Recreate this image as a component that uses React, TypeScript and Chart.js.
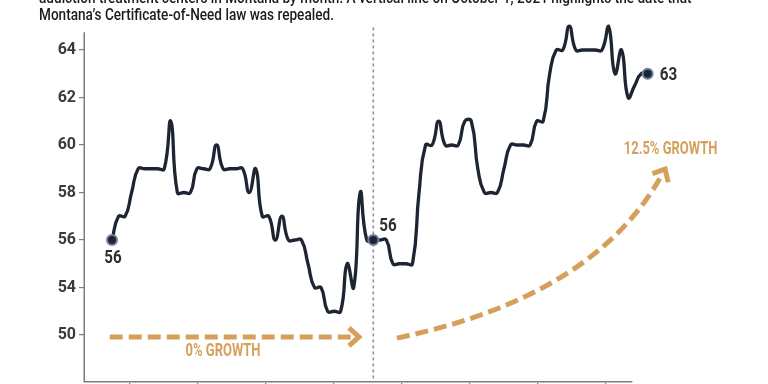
import React, { useEffect, useRef } from "react";
import { Chart, registerables } from "chart.js";

Chart.register(...registerables);

// ---------------- data ----------------
const START_YEAR = 2018;
const START_MONTH = 5; // June (0-based)
const MONTH_NAMES = ["Jan", "Feb", "Mar", "Apr", "May", "Jun", "Jul", "Aug", "Sep", "Oct", "Nov", "Dec"];

// Licensed addiction treatment centers in Montana, by month
const centers: number[] = [
  56, 57, 57, 58, 59, 59, 59, 59, 59, 61,
  58, 58, 58, 59, 59, 59, 60, 59, 59, 59,
  59, 58, 59, 57, 57, 56, 57, 56, 56, 56,
  55, 54, 54, 53, 53, 53, 55, 54, 58, 56,
  56, 56, 56, 55, 55, 55, 55, 58, 60, 60,
  61, 60, 60, 60, 61, 61, 59, 58, 58, 58,
  59, 60, 60, 60, 60, 61, 61, 63, 64, 64,
  65, 64, 64, 64, 64, 64, 65, 63, 64, 62,
  62.5, 63, 63,
];

const months: string[] = centers.map((_, i) => {
  const m = START_MONTH + i;
  return `${MONTH_NAMES[m % 12]} ${START_YEAR + Math.floor(m / 12)}`;
});

const REPEAL_MONTH = "Oct 2021";
const repealIndex = months.indexOf(REPEAL_MONTH);
const labelledIndices = [0, repealIndex, centers.length - 1];

const yTickValues = [52, 54, 56, 58, 60, 62, 64];
const yTickLabels = ["50", "54", "56", "58", "60", "62", "64"];
const xTickValues = [2.7, 13.1, 23.5, 33.9, 44.3, 54.7, 65.1, 75.5];

const titleLines = [
  "addiction treatment centers in Montana by month. A vertical line on October 1, 2021 highlights the date that",
  "Montana\u2019s Certificate-of-Need law was repealed.",
];

const flatGrowth = { label: "0% GROWTH", from: -0.35, to: 37.8, value: 51.92, labelX: 17, labelValue: 51.3 };
const curveGrowth = {
  label: "12.5% GROWTH",
  start: [43.6, 51.87],
  control: [73.9, 53.6],
  end: [84.3, 58.8],
  labelX: 85.5,
  labelValue: 59.79,
};

// ---------------- layout / style ----------------
const W = 768;
const H = 430;
const X_MIN = -4.288;
const X_MAX = 99.348;
const X_AXIS_END = 79.65;
const Y_MIN = 50;
const Y_MAX = 65;
const Y_AXIS_TOP = 64.75;
const EVENT_TOP = 64.95;

const LINE = "#1E2532";
const ORANGE = "#D6A05C";
const AXIS = "#7c7c7c";
const EVENT = "#8690a2";
const LABEL = "#2e2e2e";

const labelOffsets: Record<string, [number, number, CanvasTextAlign]> = {
  first: [1, 18, "center"],
  event: [6, -14, "left"],
  last: [12, 1, "left"],
};

function condensed(
  ctx: CanvasRenderingContext2D,
  text: string,
  x: number,
  y: number,
  font: string,
  color: string,
  sx: number,
  align: CanvasTextAlign = "center"
) {
  ctx.save();
  ctx.font = font;
  ctx.fillStyle = color;
  ctx.textBaseline = "middle";
  ctx.textAlign = align;
  ctx.translate(x, y);
  ctx.scale(sx, 1);
  ctx.fillText(text, 0, 0);
  ctx.restore();
}

function arrowHead(ctx: CanvasRenderingContext2D, tx: number, ty: number, ux: number, uy: number) {
  const nx = -uy;
  const ny = ux;
  ctx.save();
  ctx.setLineDash([]);
  ctx.lineWidth = 5;
  ctx.lineJoin = "miter";
  ctx.lineCap = "butt";
  ctx.beginPath();
  ctx.moveTo(tx - ux * 10 + nx * 9, ty - uy * 10 + ny * 9);
  ctx.lineTo(tx, ty);
  ctx.lineTo(tx - ux * 10 - nx * 9, ty - uy * 10 - ny * 9);
  ctx.stroke();
  ctx.restore();
}

const annotationPlugin = {
  id: "annotations",
  beforeDatasetsDraw(chart: any) {
    const { ctx } = chart;
    const xs = chart.scales.x;
    const ys = chart.scales.y;
    const X = (v: number) => xs.getPixelForValue(v);
    const Y = (v: number) => ys.getPixelForValue(v);
    ctx.save();

    // axis lines
    ctx.strokeStyle = AXIS;
    ctx.lineWidth = 1.5;
    ctx.setLineDash([]);
    ctx.beginPath();
    ctx.moveTo(X(X_MIN) + 0.25, Y(Y_AXIS_TOP));
    ctx.lineTo(X(X_MIN) + 0.25, Y(Y_MIN));
    ctx.moveTo(X(X_MIN), Y(Y_MIN) - 0.75);
    ctx.lineTo(X(X_AXIS_END), Y(Y_MIN) - 0.75);
    ctx.stroke();

    // repeal date line
    ctx.strokeStyle = EVENT;
    ctx.lineWidth = 1.6;
    ctx.setLineDash([3, 3]);
    ctx.beginPath();
    ctx.moveTo(X(repealIndex), Y(EVENT_TOP));
    ctx.lineTo(X(repealIndex), Y(Y_MIN));
    ctx.stroke();

    // flat growth arrow
    ctx.strokeStyle = ORANGE;
    ctx.lineWidth = 5;
    ctx.lineCap = "butt";
    ctx.setLineDash([13, 6]);
    const fy = Y(flatGrowth.value);
    const fx0 = X(flatGrowth.from);
    const fx1 = X(flatGrowth.to);
    ctx.beginPath();
    ctx.moveTo(fx0, fy);
    ctx.lineTo(fx1 - 7, fy);
    ctx.stroke();
    arrowHead(ctx, fx1, fy, 1, 0);

    // curved growth arrow
    const sx = X(curveGrowth.start[0]);
    const sy = Y(curveGrowth.start[1]);
    const cx = X(curveGrowth.control[0]);
    const cy = Y(curveGrowth.control[1]);
    const ex = X(curveGrowth.end[0]);
    const ey = Y(curveGrowth.end[1]);
    ctx.setLineDash([13, 6]);
    ctx.beginPath();
    ctx.moveTo(sx, sy);
    ctx.quadraticCurveTo(cx, cy, ex, ey);
    ctx.stroke();
    const dx = ex - cx;
    const dy = ey - cy;
    const len = Math.hypot(dx, dy);
    arrowHead(ctx, ex + (dx / len) * 5, ey + (dy / len) * 5, dx / len, dy / len);

    ctx.restore();
  },
  afterDatasetsDraw(chart: any) {
    const { ctx } = chart;
    const xs = chart.scales.x;
    const ys = chart.scales.y;
    const X = (v: number) => xs.getPixelForValue(v);
    const Y = (v: number) => ys.getPixelForValue(v);

    const growthFont = "bold 18px Roboto";
    condensed(ctx, flatGrowth.label, X(flatGrowth.labelX), Y(flatGrowth.labelValue), growthFont, ORANGE, 0.72);
    condensed(ctx, curveGrowth.label, X(curveGrowth.labelX), Y(curveGrowth.labelValue), growthFont, ORANGE, 0.72);

    const keys = ["first", "event", "last"];
    labelledIndices.forEach((idx, k) => {
      const [ox, oy, align] = labelOffsets[keys[k]];
      const v = centers[idx];
      condensed(ctx, String(Math.round(v)), X(idx) + ox, Y(v) + oy, "bold 19px Roboto", LABEL, 0.8, align);
    });
  },
};

export default function App() {
  const canvasRef = useRef<HTMLCanvasElement | null>(null);

  useEffect(() => {
    if (!canvasRef.current) return;
    const chart = new Chart(canvasRef.current, {
      type: "line",
      data: {
        datasets: [
          {
            label: "Treatment centers",
            data: centers.map((v, i) => ({ x: i, y: v })),
            borderColor: LINE,
            borderWidth: 3.3,
            tension: 0.5,
            fill: false,
            clip: false as any,
            pointRadius: (c: any) => (labelledIndices.includes(c.dataIndex) ? 5 : 0),
            pointBackgroundColor: "#1B2535",
            pointBorderColor: "#6F8098",
            pointBorderWidth: 2,
          },
        ],
      },
      options: {
        animation: false,
        responsive: false,
        devicePixelRatio: 1,
        layout: { padding: { top: 26.25, left: 0, right: 0, bottom: 0 } },
        plugins: {
          legend: { display: false },
          title: { display: false },
          tooltip: {
            enabled: true,
            callbacks: { title: (items: any[]) => months[items[0].dataIndex] },
          },
        },
        scales: {
          x: {
            type: "linear",
            min: X_MIN,
            max: X_MAX,
            afterBuildTicks: (scale: any) => {
              scale.ticks = xTickValues.map((v) => ({ value: v }));
            },
            afterFit: (scale: any) => {
              scale.height = H - 382.5;
            },
            ticks: { display: false },
            border: { display: false },
            grid: {
              drawOnChartArea: false,
              drawTicks: true,
              tickLength: 8,
              color: AXIS,
              lineWidth: 1.2,
            },
          },
          y: {
            min: Y_MIN,
            max: Y_MAX,
            afterBuildTicks: (scale: any) => {
              scale.ticks = yTickValues.map((v) => ({ value: v }));
            },
            afterFit: (scale: any) => {
              scale.width = 84;
            },
            ticks: {
              padding: 3,
              color: "#3a3a3a",
              font: { family: "Roboto", weight: "bold", size: 16 },
              callback: (_v: any, i: number) => yTickLabels[i],
            },
            border: { display: false },
            grid: {
              drawOnChartArea: false,
              drawTicks: true,
              tickLength: 5,
              color: AXIS,
              lineWidth: 1.2,
            },
          },
        },
      },
      plugins: [annotationPlugin],
    });
    return () => chart.destroy();
  }, []);

  return (
    <div
      style={{
        position: "fixed",
        left: 0,
        top: 0,
        width: W,
        height: 384,
        overflow: "hidden",
        background: "#ffffff",
      }}
    >
      <canvas ref={canvasRef} width={W} height={H} style={{ position: "absolute", left: 0, top: 0 }} />
      {titleLines.map((t, i) => (
        <div
          key={i}
          style={{
            position: "absolute",
            left: 39,
            top: -11 + i * 17,
            whiteSpace: "nowrap",
            fontFamily: "Roboto, sans-serif",
            fontWeight: 500,
            fontSize: 16,
            lineHeight: "17px",
            color: "#1c1c1c",
            transform: "scaleX(0.85)",
            transformOrigin: "left top",
          }}
        >
          {t}
        </div>
      ))}
    </div>
  );
}
